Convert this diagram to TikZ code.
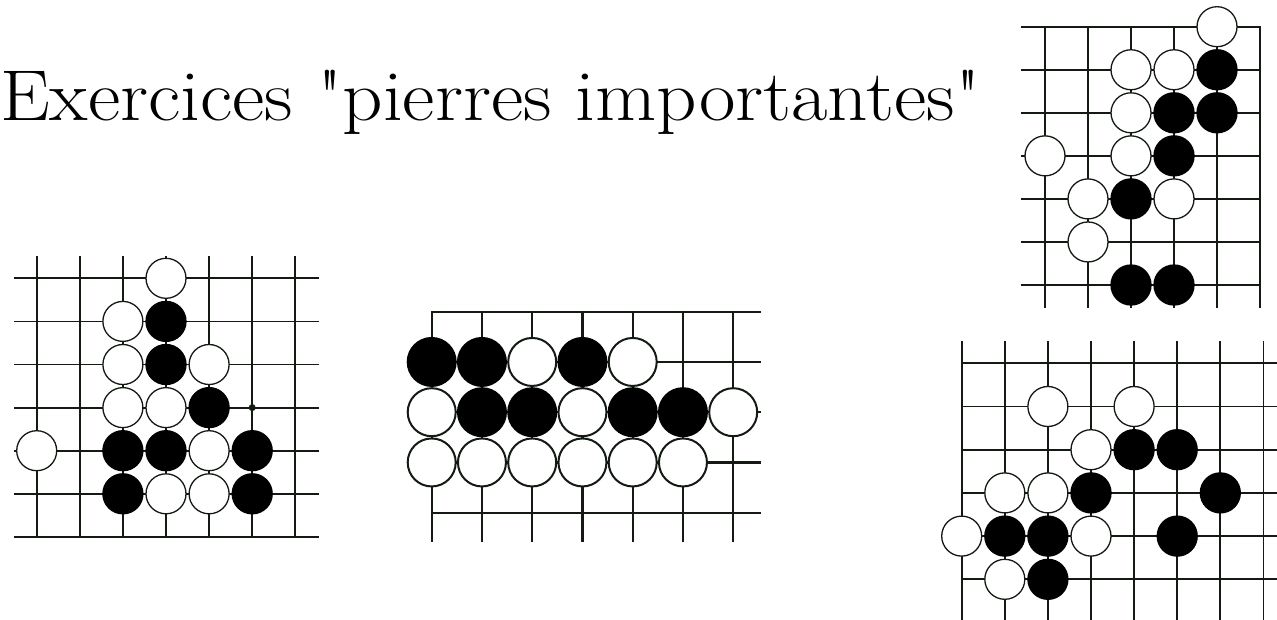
\documentclass[tikz,border=0pt]{standalone}
\usepackage{fontspec}
\usetikzlibrary{positioning}
\definecolor{trait}{HTML}{121A12}
\tikzset{
  pierre/.style={circle,draw=trait,minimum size=40pt,inner sep=0pt,line width=1.3pt},
  blanche/.style={pierre,fill=white},
  noire/.style={pierre,fill=black,draw=black},
  hoshi/.style={circle,fill=trait,minimum size=7pt,inner sep=0pt},
  ligne/.style={draw=trait,line width=1.8pt,line cap=rect},
}
\begin{document}
\begin{tikzpicture}[x=1pt,y=-1pt]
  \useasboundingbox[fill=white] (0,0) rectangle (1277,619);
  \node[anchor=base west,inner sep=0pt,font=\fontsize{72}{86}\selectfont] (titre) at (0,120)
    {\scalebox{1.1}[1]{Exercices \textquotedbl pierres importantes\textquotedbl}};
  % plateau 1
  \begin{scope}[shift={(36.7,278.3)},x=43.1pt,y=-43.1pt]
    \foreach \j in {0,...,6} \draw[ligne] (-0.5,\j) -- (6.53,\j);
    \foreach \i in {0,...,6} \draw[ligne] (\i,-0.5) -- (\i,6);
    \node[hoshi] (p1pt) at (5,3) {};
    \foreach \c/\r [count=\n] in {3/0,2/1,2/2,4/2,2/3,3/3,0/4,4/4,3/5,4/5}
      \node[blanche] (p1b\n) at (\c,\r) {};
    \foreach \c/\r [count=\n] in {3/1,3/2,4/3,2/4,3/4,5/4,2/5,5/5}
      \node[noire] (p1n\n) at (\c,\r) {};
  \end{scope}
  % plateau 2
  \begin{scope}[shift={(431.7,311.7)},x=50.25pt,y=-50.25pt,
      pierre/.append style={minimum size=48pt,line width=2pt},ligne/.append style={line width=2.2pt}]
    \foreach \j in {0,...,4} \draw[ligne] (0,\j) -- (6.53,\j);
    \foreach \i in {0,...,6} \draw[ligne] (\i,0) -- (\i,4.56);
    \foreach \c/\r [count=\n] in {2/1,4/1,0/2,3/2,6/2,0/3,1/3,2/3,3/3,4/3,5/3}
      \node[blanche] (p2b\n) at (\c,\r) {};
    \foreach \c/\r [count=\n] in {0/1,1/1,3/1,1/2,2/2,4/2,5/2}
      \node[noire] (p2n\n) at (\c,\r) {};
  \end{scope}
  % plateau 3
  \begin{scope}[shift={(1045,26.7)},x=43pt,y=-43.05pt]
    \foreach \j in {0,...,6} \draw[ligne] (-0.54,\j) -- (5,\j);
    \foreach \i in {0,...,5} \draw[ligne] (\i,0) -- (\i,6.51);
    \foreach \c/\r [count=\n] in {4/0,2/1,3/1,2/2,0/3,2/3,1/4,3/4,1/5}
      \node[blanche] (p3b\n) at (\c,\r) {};
    \foreach \c/\r [count=\n] in {4/1,3/2,4/2,3/3,2/4,2/6,3/6}
      \node[noire] (p3n\n) at (\c,\r) {};
  \end{scope}
  % plateau 4
  \begin{scope}[shift={(961.7,363.3)},x=43.1pt,y=-43.2pt]
    \foreach \j in {0,...,5} \draw[ligne] (0,\j) -- (7.4,\j);
    \foreach \i in {0,...,7} \draw[ligne] (\i,-0.5) -- (\i,6);
    \foreach \c/\r [count=\n] in {2/1,4/1,3/2,1/3,2/3,0/4,3/4,1/5}
      \node[blanche] (p4b\n) at (\c,\r) {};
    \foreach \c/\r [count=\n] in {4/2,5/2,3/3,6/3,1/4,2/4,5/4,2/5}
      \node[noire] (p4n\n) at (\c,\r) {};
  \end{scope}
\end{tikzpicture}
\end{document}
